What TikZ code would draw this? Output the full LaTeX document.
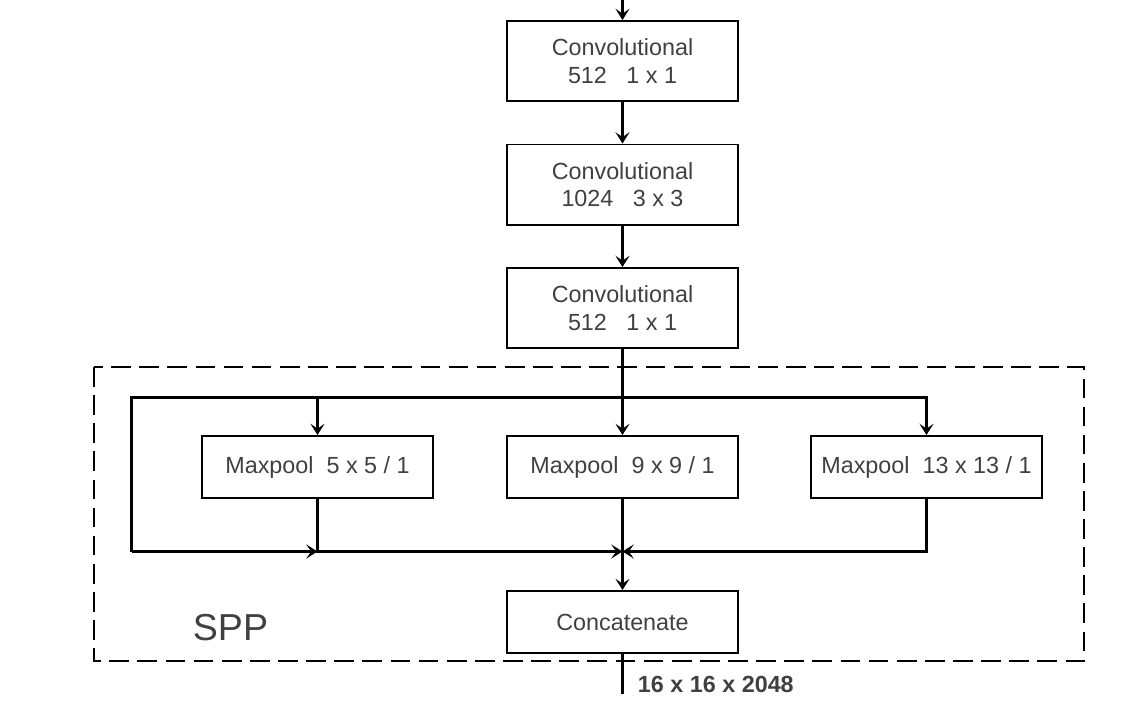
\documentclass[tikz,border=0pt]{standalone}
\usepackage{fontspec}
\setmainfont{Liberation Sans}
\usetikzlibrary{arrows.meta, positioning, calc}
\definecolor{textgray}{RGB}{64,64,64}

\begin{document}
\begin{tikzpicture}[x=0.025cm, y=-0.025cm, line width=1.4pt,
    box/.style={rectangle, draw, minimum width=5.775cm, minimum height=2cm, inner sep=0pt, align=center, text=textgray, font=\fontsize{16.6}{19.5}\selectfont},
    pool/.style={box, minimum height=1.55cm},
    wire/.style={line width=1.8pt},
    arr/.style={wire, -{Stealth[length=8pt, width=10pt, inset=3.5pt]}}]
    \useasboundingbox (0,0) rectangle (1144,712);

    \node[box] (conv1) at (622.5,61) {Convolutional\\512\ \ \ 1 x 1};
    \node[box] (conv2) at (622.5,184.5) {Convolutional\\1024\ \ \ 3 x 3};
    \node[box] (conv3) at (622.5,308) {Convolutional\\512\ \ \ 1 x 1};
    \node[pool] (pool5) at (317.5,467) {Maxpool\ \ 5 x 5 / 1};
    \node[pool] (pool9) at (622.5,467) {Maxpool\ \ 9 x 9 / 1};
    \node[pool] (pool13) at (926.5,467) {Maxpool\ \ 13 x 13 / 1};
    \node[pool] (concat) at (622.5,622) {Concatenate};

    \coordinate (in) at (622.5,0);
    \coordinate (split) at (622.5,397.5);
    \coordinate (bypass) at (131.5,551.5);
    \coordinate (merge) at (622.5,551.5);
    \coordinate (out) at (622.5,694);

    \draw[dash pattern=on 14pt off 6pt] (94,367) rectangle (1084,661);
    \node[text=textgray, font=\fontsize{26.7}{30}\selectfont] (spp) at (230.5,628) {SPP};

    \draw[arr] (in) -- (conv1);
    \draw[arr] (conv1) -- (conv2);
    \draw[arr] (conv2) -- (conv3);
    \draw[arr] (conv3) -- (pool9);
    \draw[arr] (split) -| (pool5.north);
    \draw[arr] (split) -| (pool13.north);
    \draw[wire] (split) -| (bypass);
    \draw[arr] (bypass) -- (bypass -| pool5.south);
    \draw[arr] (pool5.south) |- (merge);
    \draw[arr] (pool13.south) |- (merge);
    \draw[wire] (pool9) -- (merge);
    \draw[arr] (merge) -- (concat);
    \draw[wire] (concat) -- (out);
    \node[anchor=west, inner sep=0pt, text=textgray, font=\bfseries\fontsize{16.6}{19.5}\selectfont] (shape) at (637,684) {16 x 16 x 2048};
\end{tikzpicture}
\end{document}
